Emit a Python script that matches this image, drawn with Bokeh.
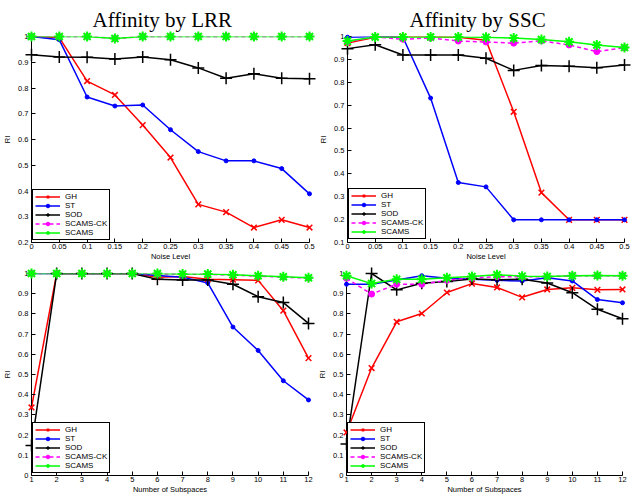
from bokeh.plotting import figure
from bokeh.layouts import column, row
from bokeh.models import Range1d, FixedTicker, Legend, LegendItem
from bokeh.embed import file_html
from bokeh.resources import INLINE

# ---------------- data ----------------
noise_levels = [0, 0.05, 0.1, 0.15, 0.2, 0.25, 0.3, 0.35, 0.4, 0.45, 0.5]
noise_labels = ["0", "0.05", "0.1", "0.15", "0.2", "0.25", "0.3", "0.35", "0.4", "0.45", "0.5"]
subspaces = [1, 2, 3, 4, 5, 6, 7, 8, 9, 10, 11, 12]
subspace_labels = ["1", "2", "3", "4", "5", "6", "7", "8", "9", "10", "11", "12"]

ri_ticks_lrr_noise = [0.2, 0.3, 0.4, 0.5, 0.6, 0.7, 0.8, 0.9, 1.0]
ri_labels_lrr_noise = ["0.2", "0.3", "0.4", "0.5", "0.6", "0.7", "0.8", "0.9", "1"]
ri_ticks_ssc_noise = [0.1, 0.2, 0.3, 0.4, 0.5, 0.6, 0.7, 0.8, 0.9, 1.0]
ri_labels_ssc_noise = ["0.1", "0.2", "0.3", "0.4", "0.5", "0.6", "0.7", "0.8", "0.9", "1"]
ri_ticks_sub = [0, 0.1, 0.2, 0.3, 0.4, 0.5, 0.6, 0.7, 0.8, 0.9, 1.0]
ri_labels_sub = ["0", "0.1", "0.2", "0.3", "0.4", "0.5", "0.6", "0.7", "0.8", "0.9", "1"]

series_names = ["GH", "ST", "SOD", "SCAMS-CK", "SCAMS"]

# Affinity by LRR, vs noise level
gh_lrr_noise = [1.0, 0.996, 0.827, 0.773, 0.656, 0.530, 0.348, 0.318, 0.258, 0.288, 0.258]
st_lrr_noise = [1.0, 0.987, 0.765, 0.730, 0.734, 0.638, 0.553, 0.517, 0.517, 0.487, 0.389]
sod_lrr_noise = [0.929, 0.920, 0.919, 0.913, 0.920, 0.910, 0.878, 0.838, 0.855, 0.838, 0.836]
ck_lrr_noise = [1.0, 1.0, 1.0, 0.992, 1.0, 1.0, 1.0, 1.0, 1.0, 1.0, 1.0]
scams_lrr_noise = [1.0, 1.0, 1.0, 0.992, 1.0, 1.0, 1.0, 1.0, 1.0, 1.0, 1.0]

# Affinity by SSC, vs noise level
gh_ssc_noise = [0.971, 0.997, 1.0, 1.0, 0.997, 0.984, 0.671, 0.318, 0.199, 0.199, 0.199]
st_ssc_noise = [0.997, 1.0, 0.997, 0.731, 0.362, 0.343, 0.199, 0.199, 0.199, 0.199, 0.199]
sod_ssc_noise = [0.947, 0.964, 0.919, 0.919, 0.919, 0.905, 0.852, 0.873, 0.870, 0.863, 0.876]
ck_ssc_noise = [0.977, 0.998, 0.988, 0.994, 0.980, 0.976, 0.971, 0.981, 0.963, 0.934, 0.951]
scams_ssc_noise = [0.980, 0.998, 0.998, 0.998, 0.998, 0.997, 0.993, 0.987, 0.977, 0.963, 0.952]

# Affinity by LRR, vs number of subspaces
gh_lrr_sub = [0.337, 1.0, 1.0, 1.0, 1.0, 0.982, 0.985, 0.971, 0.969, 0.966, 0.816, 0.581]
st_lrr_sub = [1.0, 1.0, 1.0, 1.0, 1.0, 0.990, 0.982, 0.953, 0.735, 0.619, 0.469, 0.374]
sod_lrr_sub = [0.148, 1.0, 1.0, 1.0, 1.0, 0.971, 0.968, 0.968, 0.947, 0.885, 0.856, 0.753]
ck_lrr_sub = [1.0, 1.0, 1.0, 1.0, 1.0, 0.998, 0.997, 0.996, 0.992, 0.987, 0.982, 0.977]
scams_lrr_sub = [1.0, 1.0, 1.0, 1.0, 1.0, 1.0, 0.998, 0.997, 0.994, 0.989, 0.984, 0.979]

# Affinity by SSC, vs number of subspaces
gh_ssc_sub = [0.213, 0.532, 0.761, 0.802, 0.906, 0.950, 0.931, 0.882, 0.921, 0.929, 0.919, 0.921]
st_ssc_sub = [0.947, 0.947, 0.968, 0.989, 0.976, 0.971, 0.966, 0.963, 0.979, 0.963, 0.871, 0.855]
sod_ssc_sub = [0.156, 1.0, 0.919, 0.952, 0.960, 0.973, 0.969, 0.971, 0.953, 0.905, 0.823, 0.776]
ck_ssc_sub = [0.976, 0.898, 0.947, 0.947, 0.966, 0.979, 0.984, 0.984, 0.984, 0.989, 0.989, 0.989]
scams_ssc_sub = [0.989, 0.950, 0.971, 0.971, 0.979, 0.985, 0.994, 0.987, 0.985, 0.989, 0.990, 0.989]

# ---------------- styles ----------------
STYLES = [
    dict(color="#ff0000", marker="x", size=8, dash="solid", fill=None, mlw=1.5),
    dict(color="#0000ff", marker="circle", size=4, dash="solid", fill="#0000ff", mlw=1),
    dict(color="#000000", marker="cross", size=12, dash="solid", fill=None, mlw=1.5),
    dict(color="#ff00ff", marker="circle", size=6, dash="4 3", fill="#ff00ff", mlw=1),
    dict(color="#00ff00", marker="asterisk", size=10, dash="solid", fill=None, mlw=2),
]

TICK_FONT = "Liberation Sans"


def make_panel(title, xs, xticks, xlabels, yticks, ylabels, ylo, yhi, xlabel,
               ys_list, fw, fh, bl, br, bt, bb, legend_loc, title_offset):
    p = figure(frame_width=fw, frame_height=fh, output_backend="svg", toolbar_location=None,
               x_range=Range1d(xs[0], xs[-1]), y_range=Range1d(ylo, yhi),
               min_border_left=bl, min_border_right=br,
               min_border_top=bt, min_border_bottom=bb, title=title,
               frame_align=False)
    p.outline_line_color = None
    p.grid.visible = False
    p.background_fill_color = "white"
    p.border_fill_color = "white"

    p.title.text_font = "Liberation Serif"
    p.title.text_font_size = "21px"
    p.title.text_font_style = "normal"
    p.title.text_color = "black"
    p.title.align = "left"
    p.title.offset = title_offset
    p.title.standoff = 10

    for ax in (p.xaxis[0], p.yaxis[0]):
        ax.axis_line_color = "black"
        ax.axis_line_width = 1
        ax.major_tick_in = 4
        ax.major_tick_out = 0
        ax.minor_tick_line_color = None
        ax.major_tick_line_color = "black"
        ax.major_label_text_font = TICK_FONT
        ax.major_label_text_font_size = "7.5px"
        ax.major_label_text_color = "black"
        ax.major_label_standoff = 1
        ax.axis_label_text_font = TICK_FONT
        ax.axis_label_text_font_style = "normal"
        ax.axis_label_text_font_size = "7.5px"
        ax.axis_label_text_color = "black"
        ax.axis_label_standoff = 0

    p.xaxis.ticker = FixedTicker(ticks=xticks)
    p.xaxis.major_label_overrides = {float(t): l for t, l in zip(xticks, xlabels)}
    p.xaxis.axis_label = xlabel
    p.yaxis.ticker = FixedTicker(ticks=yticks)
    p.yaxis.major_label_overrides = {float(t): l for t, l in zip(yticks, ylabels)}
    p.yaxis.axis_label = "RI"
    p.yaxis.major_label_standoff = 3
    p.yaxis.axis_label_standoff = 3

    items = []
    for name, ys, st in zip(series_names, ys_list, STYLES):
        rl = p.line(xs, ys, line_color=st["color"], line_width=1.5, line_dash=st["dash"])
        rm = p.scatter(xs, ys, marker=st["marker"], size=st["size"],
                       line_color=st["color"], line_width=st["mlw"],
                       fill_color=st["fill"])
        rm.level = "overlay"
        items.append(LegendItem(label=name, renderers=[rl, rm]))

    leg = Legend(items=items, location=legend_loc, margin=0, padding=2, spacing=0,
                 glyph_width=25, glyph_height=9, label_height=9, label_standoff=5,
                 label_text_font=TICK_FONT, label_text_font_size="8px",
                 label_text_color="black",
                 border_line_color="black", border_line_width=1.5, border_line_alpha=1.0,
                 background_fill_color="white", background_fill_alpha=1.0)
    p.add_layout(leg)
    return p


p1 = make_panel("Affinity by LRR", noise_levels, noise_levels, noise_labels,
                ri_ticks_lrr_noise, ri_labels_lrr_noise, 0.2, 1.0, "Noise Level",
                [gh_lrr_noise, st_lrr_noise, sod_lrr_noise, ck_lrr_noise, scams_lrr_noise],
                278, 206, 25, 7, 26, 22, (1, 2), 61)
p2 = make_panel("Affinity by SSC", noise_levels, noise_levels, noise_labels,
                ri_ticks_ssc_noise, ri_labels_ssc_noise, 0.1, 1.0, "Noise Level",
                [gh_ssc_noise, st_ssc_noise, sod_ssc_noise, ck_ssc_noise, scams_ssc_noise],
                277, 206, 25, 7, 26, 22, (1, 3), 62)
p3 = make_panel("", subspaces, subspaces, subspace_labels,
                ri_ticks_sub, ri_labels_sub, 0.0, 1.0, "Number of Subspaces",
                [gh_lrr_sub, st_lrr_sub, sod_lrr_sub, ck_lrr_sub, scams_lrr_sub],
                277, 202, 26, 7, 9, 22, (1, 2), 0)
p4 = make_panel("", subspaces, subspaces, subspace_labels,
                ri_ticks_sub, ri_labels_sub, 0.0, 1.0, "Number of Subspaces",
                [gh_ssc_sub, st_ssc_sub, sod_ssc_sub, ck_ssc_sub, scams_ssc_sub],
                276, 202, 26, 7, 9, 22, (1, 2), 0)

layout = column(row(p1, p2), row(p3, p4))

open("out.html", "w").write(file_html(layout, INLINE))
